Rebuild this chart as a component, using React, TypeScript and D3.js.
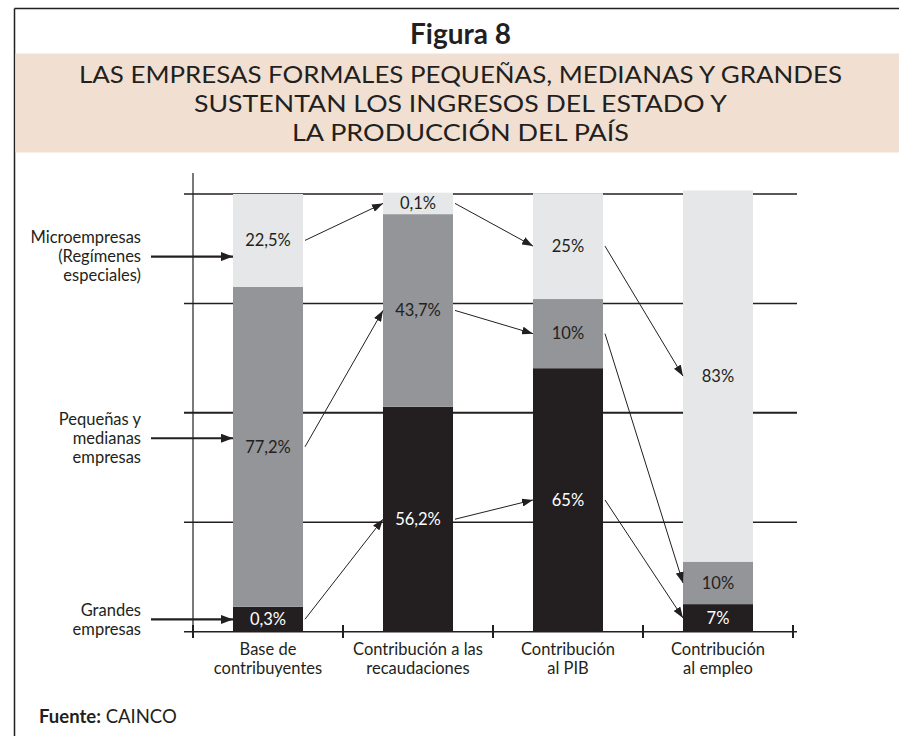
import React from "react";
import * as d3 from "d3";

// Categories (x axis), two-line labels
const categories = ["base", "recaud", "pib", "empleo"];
const categoryLines = [
  ["Base de", "contribuyentes"],
  ["Contribución a las", "recaudaciones"],
  ["Contribución", "al PIB"],
  ["Contribución", "al empleo"],
];

// Drawn segment heights (percent of axis)
const grandesDrawn = [5.7, 51.4, 60.2, 6.3];
const pymesDrawn = [73.1, 44.0, 15.8, 9.7];
const microDrawn = [21.2, 4.9, 24.2, 84.8];

// Printed labels
const grandesLabels = ["0,3%", "56,2%", "65%", "7%"];
const pymesLabels = ["77,2%", "43,7%", "10%", "10%"];
const microLabels = ["22,5%", "0,1%", "25%", "83%"];

const gridTicks = [0, 25, 50, 75, 100];

const seriesNames = ["grandes", "pymes", "micro"];
const legendLines = [
  ["Grandes", "empresas"],
  ["Pequeñas y", "medianas", "empresas"],
  ["Microempresas", "(Regímenes", "especiales)"],
];
const legendAt = [2.8, 44.2, 85.7];

const titleLines = [
  "LAS EMPRESAS FORMALES PEQUEÑAS, MEDIANAS Y GRANDES",
  "SUSTENTAN LOS INGRESOS DEL ESTADO Y",
  "LA PRODUCCIÓN DEL PAÍS",
];

const FONT = "Lato, 'Open Sans', sans-serif";
const INK = "#231f20";
const COLORS: Record<string, string> = {
  grandes: "#231f20",
  pymes: "#939598",
  micro: "#e6e7e8",
};
const LABEL_COLORS: Record<string, string> = {
  grandes: "#ffffff",
  pymes: INK,
  micro: INK,
};

export default function App() {
  const W = 899;
  const H = 736;
  const x = d3
    .scaleBand<string>()
    .domain(categories)
    .range([193, 793])
    .paddingInner(0.5333)
    .paddingOuter(0.2667);
  const y = d3.scaleLinear().domain([0, 100]).range([631.7, 194]);

  const table = categories.map((c, i) => ({
    cat: c,
    grandes: grandesDrawn[i],
    pymes: pymesDrawn[i],
    micro: microDrawn[i],
  }));
  const stack = d3.stack<any>().keys(seriesNames)(table);
  const labels: Record<string, string[]> = {
    grandes: grandesLabels,
    pymes: pymesLabels,
    micro: microLabels,
  };

  const bw = x.bandwidth();
  const step = x.step();
  const tickXs = categories
    .map((c) => (x(c) as number) - (step * x.paddingInner()) / 2)
    .concat([(x(categories[3]) as number) + bw + (step * x.paddingInner()) / 2]);

  const labelY = (si: number, ci: number) => {
    const seg = stack[si][ci];
    return (y(seg[0]) + y(seg[1])) / 2;
  };

  const arrows: { x1: number; y1: number; x2: number; y2: number }[] = [];
  for (let ci = 0; ci < categories.length - 1; ci++) {
    for (let si = 0; si < seriesNames.length; si++) {
      arrows.push({
        x1: (x(categories[ci]) as number) + bw + 2,
        y1: labelY(si, ci),
        x2: x(categories[ci + 1]) as number,
        y2: labelY(si, ci + 1),
      });
    }
  }

  const titleWidths = [763, 533, 337];
  const cx = 460.5;
  const bar0 = x(categories[0]) as number;

  return (
    <svg
      width={W}
      height={H}
      style={{ position: "absolute", left: 0, top: 0, background: "#fff" }}
      fontFamily={FONT}
    >
      <defs>
        <marker
          id="thin"
          markerUnits="userSpaceOnUse"
          markerWidth={11}
          markerHeight={8}
          refX={11}
          refY={4}
          orient="auto"
        >
          <path d="M0,0 L11,4 L0,8 Z" fill={INK} />
        </marker>
        <marker
          id="thick"
          markerUnits="userSpaceOnUse"
          markerWidth={12}
          markerHeight={9}
          refX={12}
          refY={4.5}
          orient="auto"
        >
          <path d="M0,0 L12,4.5 L0,9 Z" fill={INK} />
        </marker>
      </defs>

      {/* frame */}
      <line x1={14.5} y1={8.5} x2={W} y2={8.5} stroke={INK} strokeWidth={1.5} />
      <line x1={14.5} y1={8.5} x2={14.5} y2={H} stroke={INK} strokeWidth={1.5} />

      {/* titles */}
      <text x={cx} y={44} textAnchor="middle" fontSize={28} fontWeight={700} fill={INK}>
        Figura 8
      </text>
      <rect x={15.5} y={53.5} width={W - 15.5} height={99} fill="#f1e0d2" />
      {titleLines.map((t, i) => (
        <text
          key={i}
          x={cx}
          y={83.3 + i * 28.8}
          textAnchor="middle"
          fontSize={24}
          textLength={titleWidths[i]}
          lengthAdjust="spacingAndGlyphs"
          fill={INK}
        >
          {t}
        </text>
      ))}

      {/* grid */}
      {gridTicks.map((t) => (
        <line
          key={t}
          x1={184}
          x2={797}
          y1={y(t)}
          y2={y(t)}
          stroke={INK}
          strokeWidth={t === 50 ? 2 : 1.5}
        />
      ))}
      <line x1={193} x2={193} y1={173} y2={638} stroke={INK} strokeWidth={1.2} />
      {tickXs.map((tx, i) => (
        <line key={i} x1={tx} x2={tx} y1={625} y2={638} stroke={INK} strokeWidth={2} />
      ))}

      {/* bars */}
      {stack.map((s) =>
        s.map((seg, ci) => (
          <rect
            key={s.key + ci}
            x={x(categories[ci]) as number}
            y={y(seg[1])}
            width={bw}
            height={y(seg[0]) - y(seg[1])}
            fill={COLORS[s.key]}
          />
        ))
      )}
      {stack.map((s, si) =>
        s.map((seg, ci) => (
          <text
            key={"l" + s.key + ci}
            x={(x(categories[ci]) as number) + bw / 2}
            y={labelY(si, ci)}
            dy="0.35em"
            textAnchor="middle"
            fontSize={16.5}
            fill={LABEL_COLORS[s.key]}
          >
            {labels[s.key][ci]}
          </text>
        ))
      )}

      {/* connecting arrows */}
      {arrows.map((a, i) => (
        <line
          key={i}
          x1={a.x1}
          y1={a.y1}
          x2={a.x2}
          y2={a.y2}
          stroke={INK}
          strokeWidth={1}
          markerEnd="url(#thin)"
        />
      ))}

      {/* left legend */}
      {legendLines.map((lines, i) => {
        const ay = y(legendAt[i]);
        const lh = 19;
        const y0 = ay - ((lines.length - 1) * lh) / 2;
        return (
          <g key={i}>
            {lines.map((l, j) => (
              <text
                key={j}
                x={141}
                y={y0 + j * lh}
                dy="0.35em"
                textAnchor="end"
                fontSize={16.5}
                fill={INK}
              >
                {l}
              </text>
            ))}
            <line
              x1={151}
              x2={bar0}
              y1={ay}
              y2={ay}
              stroke={INK}
              strokeWidth={2.2}
              markerEnd="url(#thick)"
            />
          </g>
        );
      })}

      {/* category labels */}
      {categoryLines.map((lines, i) => (
        <g key={i}>
          {lines.map((l, j) => (
            <text
              key={j}
              x={(x(categories[i]) as number) + bw / 2}
              y={655 + j * 19}
              textAnchor="middle"
              fontSize={16.5}
              fill={INK}
            >
              {l}
            </text>
          ))}
        </g>
      ))}

      {/* source */}
      <text x={39} y={723} fontSize={18.5} fill={INK}>
        <tspan fontWeight={700}>Fuente:</tspan>
        <tspan> CAINCO</tspan>
      </text>
    </svg>
  );
}
